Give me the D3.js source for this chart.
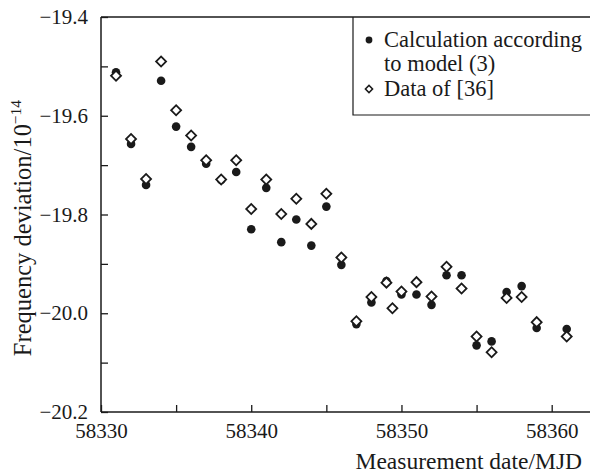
<!DOCTYPE html>
<html><head><meta charset="utf-8">
<script src="https://cdn.jsdelivr.net/npm/d3@7"></script>
<style>body{margin:0;background:#fff}svg{display:block}svg text{font-family:"Liberation Serif",Tinos,"Times New Roman",Times,"DejaVu Serif",serif !important;fill:#1a1a1a}</style>
</head><body>
<svg id="c" width="590" height="473"></svg>
<script>
const calcDates = [58331,58332,58333,58334,58335,58336,58337,58338,58339,58340,58341,58342,58343,58344,58345,58346,58347,58348,58349,58350,58351,58352,58353,58354,58355,58356,58357,58358,58359,58361];
const calcValues = [-19.512,-19.657,-19.740,-19.529,-19.622,-19.663,-19.697,-19.730,-19.714,-19.830,-19.746,-19.856,-19.810,-19.863,-19.784,-19.902,-20.022,-19.978,-19.935,-19.962,-19.962,-19.983,-19.923,-19.923,-20.065,-20.057,-19.957,-19.945,-20.030,-20.032];
const dataDates = [58331,58332,58333,58334,58335,58336,58337,58338,58339,58340,58341,58342,58343,58344,58345,58346,58347,58348,58349,58349.4,58350,58351,58352,58353,58354,58355,58356,58357,58358,58359,58361];
const dataValues = [-19.519,-19.647,-19.728,-19.490,-19.589,-19.640,-19.690,-19.729,-19.690,-19.789,-19.729,-19.799,-19.768,-19.819,-19.758,-19.887,-20.016,-19.967,-19.938,-19.990,-19.956,-19.937,-19.966,-19.906,-19.950,-20.047,-20.079,-19.969,-19.967,-20.018,-20.047];
const xMajorTicks = [58330,58340,58350,58360];
const xMinorTicks = [58335,58345,58355];
const yMajorTicks = [-19.4,-19.6,-19.8,-20.0,-20.2];
const yMinorTicks = [-19.5,-19.7,-19.9,-20.1];
const legendLabels = [["Calculation according","to model (3)"],["Data of [36]"]];

const FONT = '"Liberation Serif", Tinos, "Times New Roman", Times, "DejaVu Serif", serif';
const svg = d3.select("#c");
const L = 101, T = 17, B = 412, R = 590;
const x = d3.scaleLinear().domain([58330, 58362.55]).range([L, R]);
const y = d3.scaleLinear().domain([-20.2, -19.4]).range([B, T]);
const ink = "#1a1a1a";

svg.append("line").attr("x1", L).attr("x2", R + 5).attr("y1", T).attr("y2", T).attr("stroke", ink).attr("stroke-width", 1.5);

const xAxis = d3.axisBottom(x).tickValues(xMajorTicks.concat(xMinorTicks)).tickSize(-7)
  .tickFormat(d => xMajorTicks.includes(d) ? d3.format("d")(d) : "").tickPadding(0);
const gx = svg.append("g").attr("transform", `translate(0,${B})`).call(xAxis).attr("font-family", FONT);
gx.select(".domain").attr("d", `M${L},0H${R + 5}`).attr("stroke", ink).attr("stroke-width", 1.5);
gx.selectAll(".tick line").attr("stroke", ink).attr("stroke-width", 1.3);
gx.selectAll(".tick text").attr("font-size", 21).attr("fill", ink).attr("y", 26).attr("dy", 0);

const fmtY = v => (v < 0 ? "\u2212" : "") + Math.abs(v).toFixed(1);
const yAxis = d3.axisLeft(y).tickValues(yMajorTicks.concat(yMinorTicks)).tickSize(-7)
  .tickFormat(d => yMajorTicks.some(t => Math.abs(t - d) < 1e-9) ? fmtY(d) : "");
const gy = svg.append("g").attr("transform", `translate(${L},0)`).call(yAxis).attr("font-family", FONT);
gy.select(".domain").attr("d", `M0,${T}V${B}`).attr("stroke", ink).attr("stroke-width", 1.5);
gy.selectAll(".tick line").attr("stroke", ink).attr("stroke-width", 1.3);
gy.selectAll(".tick text").attr("font-size", 21).attr("fill", ink).attr("x", -13);

svg.append("text").attr("x", 582).attr("y", 469).attr("text-anchor", "end").attr("font-size", 23.5).text("Measurement date/MJD");
const yt = svg.append("text").attr("transform", "translate(31,228) rotate(-90)").attr("text-anchor", "middle").attr("font-size", 24.5);
yt.append("tspan").text("Frequency deviation/10");
yt.append("tspan").attr("dy", -10).attr("font-size", 15.5).text("\u221214");

const diamond = d3.symbol().type(d3.symbolSquare).size(50);
const pts = dataDates.map((d, i) => [d, dataValues[i]]);
svg.append("g").selectAll("circle").data(calcDates.map((d, i) => [d, calcValues[i]])).join("circle")
  .attr("cx", d => x(d[0])).attr("cy", d => y(d[1])).attr("r", 4.3).attr("fill", ink);
svg.append("g").selectAll("path").data(pts).join("path")
  .attr("d", diamond).attr("transform", d => `translate(${x(d[0])},${y(d[1])}) rotate(45)`)
  .attr("fill", "#fff").attr("stroke", ink).attr("stroke-width", 1.8);

svg.append("path").attr("d", `M353,${T}V115H${R + 5}`).attr("fill", "none").attr("stroke", ink).attr("stroke-width", 1.2);
const lg = svg.append("g");
lg.append("circle").attr("cx", 369).attr("cy", 40).attr("r", 3.4).attr("fill", ink);
lg.append("path").attr("d", d3.symbol().type(d3.symbolSquare).size(26)).attr("transform", "translate(369,89) rotate(45)")
  .attr("fill", "#fff").attr("stroke", ink).attr("stroke-width", 1.5);
lg.append("text").attr("x", 384).attr("y", 47).attr("font-size", 22.5).text(legendLabels[0][0]);
lg.append("text").attr("x", 384).attr("y", 71).attr("font-size", 22.5).text(legendLabels[0][1]);
lg.append("text").attr("x", 384).attr("y", 96).attr("font-size", 22.5).text(legendLabels[1][0]);
</script>
</body></html>
